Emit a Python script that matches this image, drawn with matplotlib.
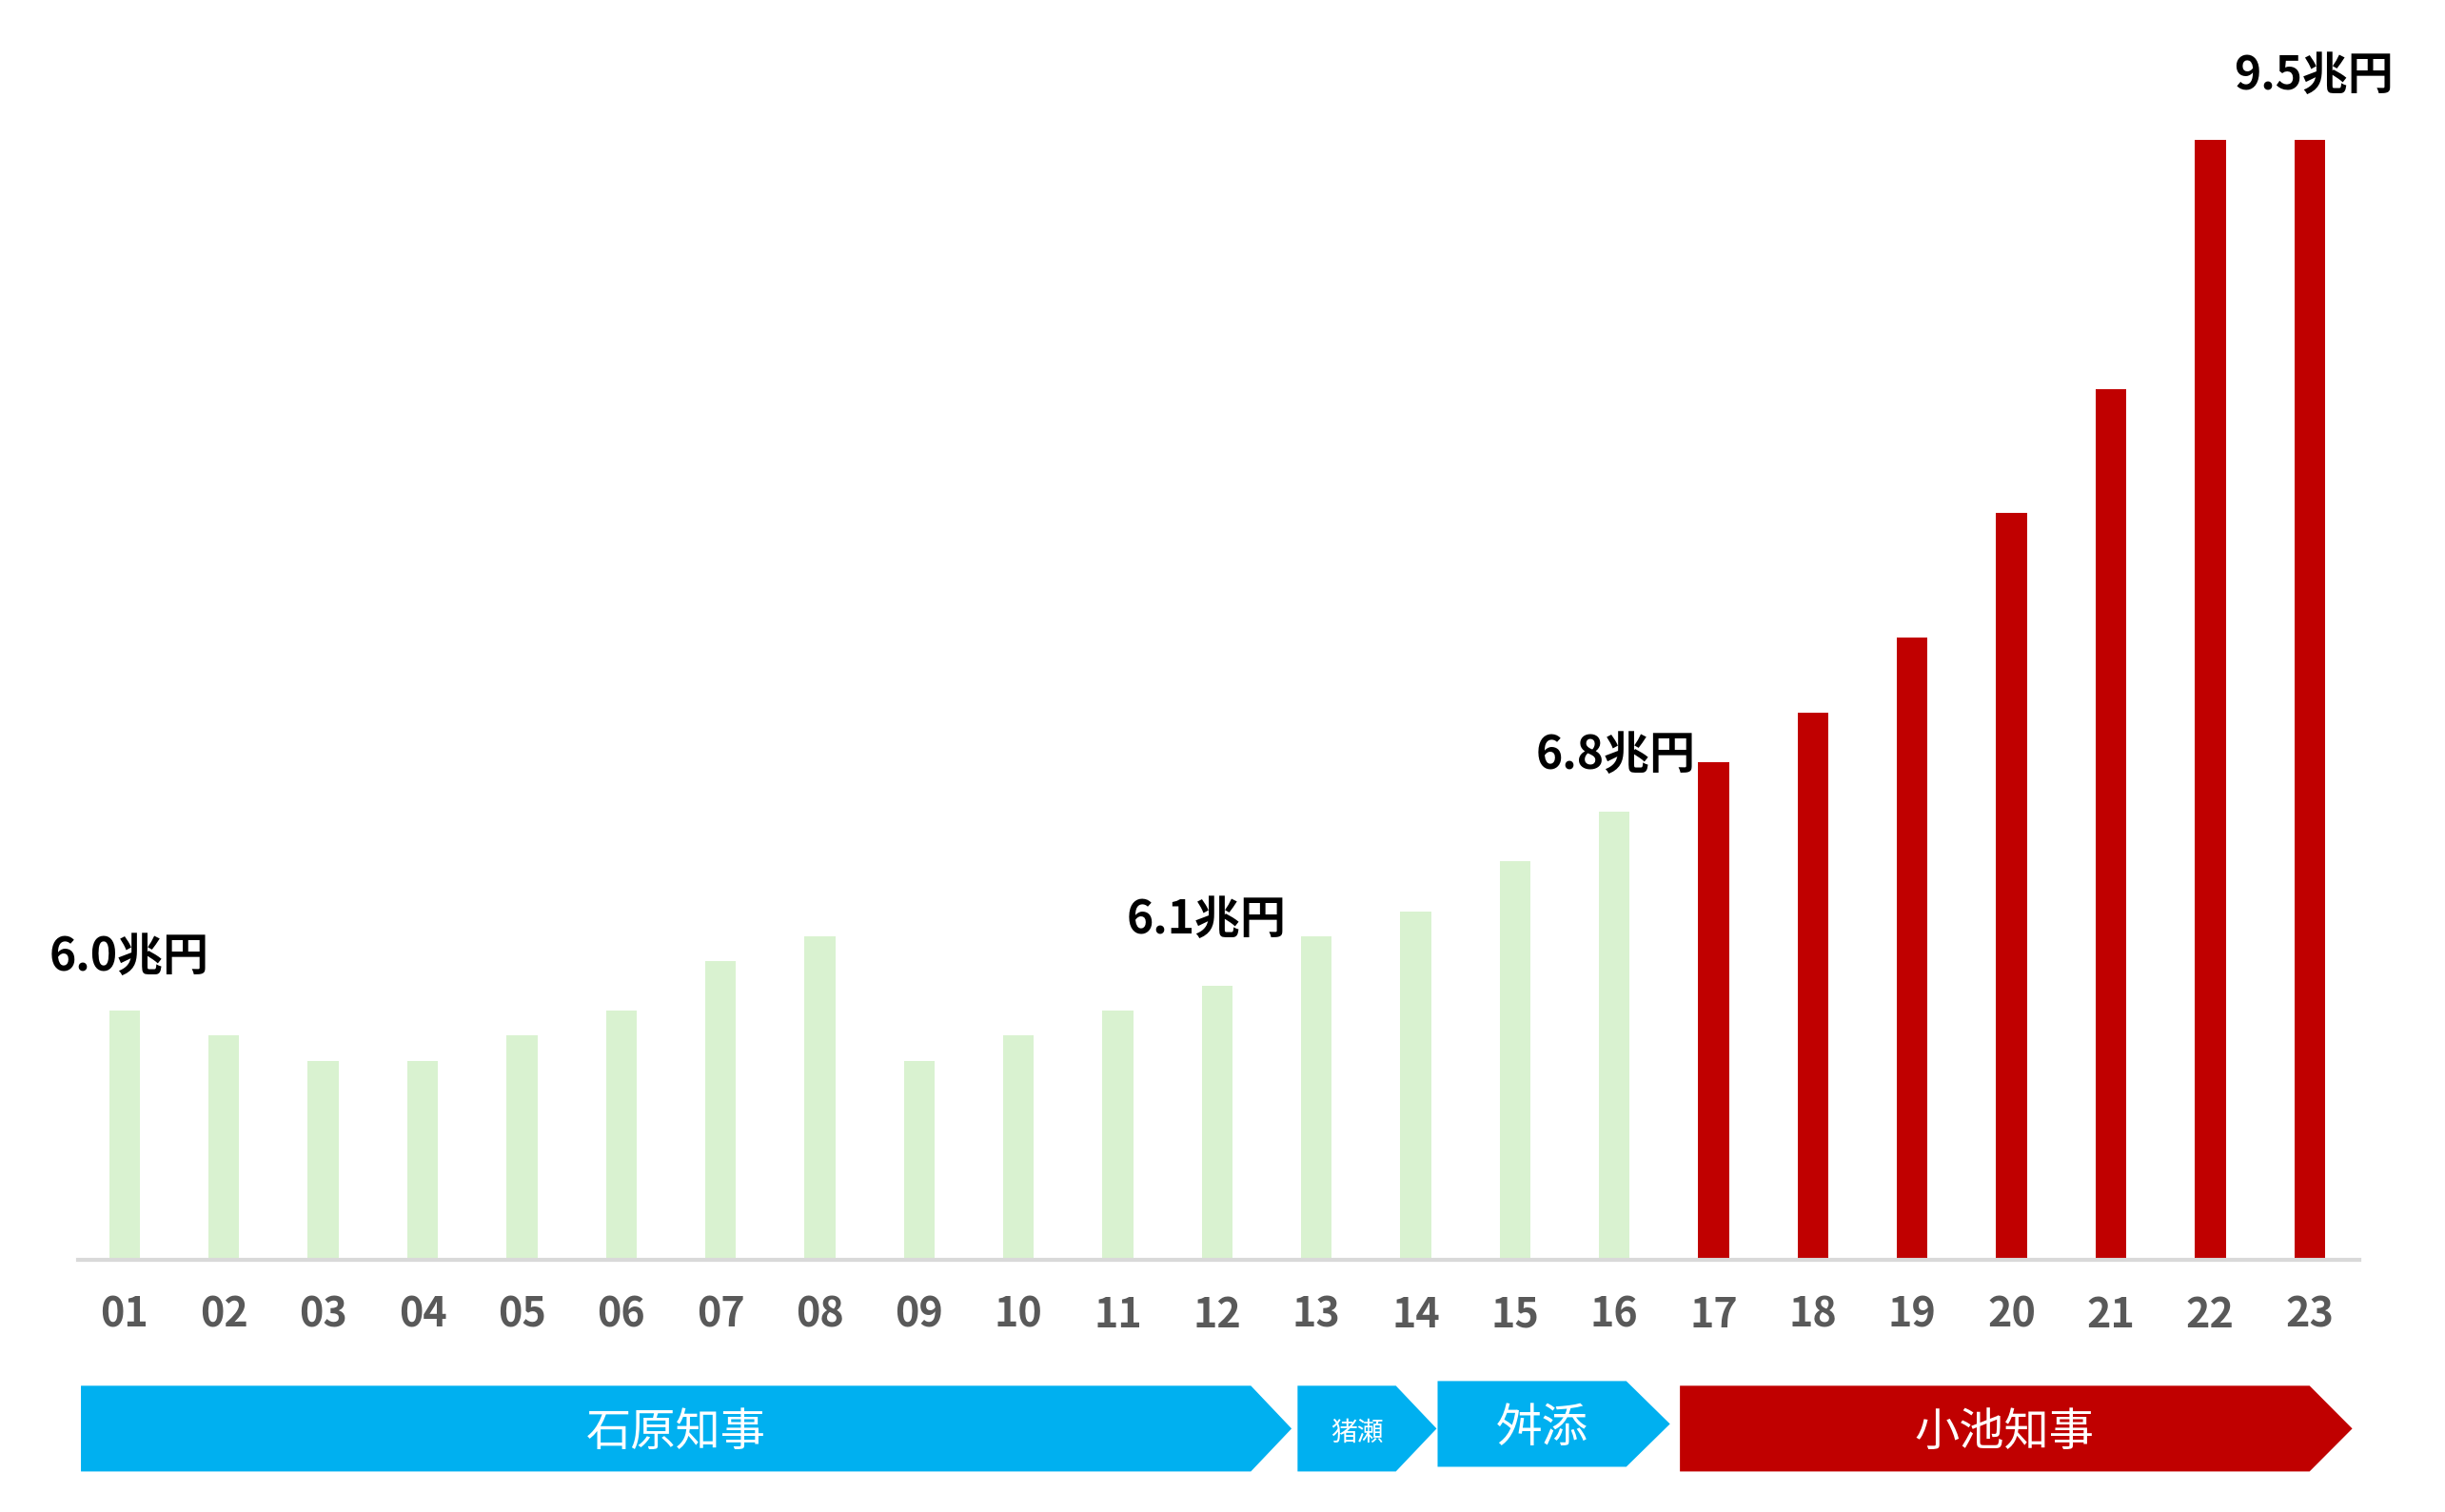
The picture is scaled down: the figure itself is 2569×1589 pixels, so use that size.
import matplotlib
matplotlib.use("Agg")
import matplotlib.pyplot as plt
from matplotlib.patches import Polygon

plt.rcParams['font.family'] = ['Noto Sans CJK JP', 'DejaVu Sans']

# ---- data ----
years = ["01", "02", "03", "04", "05", "06", "07", "08", "09", "10", "11", "12",
         "13", "14", "15", "16", "17", "18", "19", "20", "21", "22", "23"]
values = [6.0, 5.9, 5.8, 5.8, 5.9, 6.0, 6.2, 6.3, 5.8, 5.9, 6.0, 6.1,
          6.3, 6.4, 6.6, 6.8, 7.0, 7.2, 7.5, 8.0, 8.5, 9.5, 9.5]
koike_start = 16  # index of "17"
labels_idx = [0, 11, 15, 22]
labels_txt = ["6.0兆円", "6.1兆円", "6.8兆円", "9.5兆円"]
governors = ["石原知事", "猪瀬", "舛添", "小池知事"]

GREEN = "#D9F2D0"
RED = "#C00000"
BLUE = "#00B0F0"
BASE = 5.0

fig = plt.figure(figsize=(25.69, 15.89), dpi=100)
ax = fig.add_axes([50/1568, (970-808)/970, (1513-50)/1568, (808-20)/970])

x = list(range(len(years)))
colors = [GREEN if i < koike_start else RED for i in x]
ax.bar(x, [v - BASE for v in values], bottom=BASE, width=0.31, color=colors, zorder=2)

ax.set_xlim(-0.47, 22.5)
ax.set_ylim(BASE, BASE + (808-20)/159.56)
for s in ["top", "right", "left"]:
    ax.spines[s].set_visible(False)
ax.spines["bottom"].set_color("#D9D9D9")
ax.spines["bottom"].set_linewidth(3)
ax.set_yticks([])
ax.set_xticks(x)
ax.set_xticklabels(years, fontsize=31, fontweight="bold", color="#595959")
ax.tick_params(axis="x", length=0, pad=26)

# value labels
offs = {0: (3, 41), 11: (-8, 50), 15: (1, 43), 22: (3, 49)}
for i, t in zip(labels_idx, labels_txt):
    dx, dy = offs[i]
    ax.annotate(t, (i, values[i]), xytext=(dx, dy), textcoords="offset points",
                ha="center", va="center", fontsize=34.5, fontweight="bold",
                color="black", annotation_clip=False)

# governor arrows (data x units, data y units below the axis)
def yd(py):
    return BASE + (808 - py) / 159.56

shapes = [
    (governors[0], -0.44, 11.34, 11.75, 889, 944, BLUE, 34, 0.10),
    (governors[1], 11.81, 12.80, 13.21, 889, 944, BLUE, 20, 0.10),
    (governors[2], 13.22, 15.12, 15.56, 886, 941, BLUE, 35, 0.10),
    (governors[3], 15.66, 22.00, 22.43, 889, 944, RED, 34, 0.10),
]
for name, x0, x1, tip, pt, pb, col, fs, tdx in shapes:
    yt, yb = yd(pt), yd(pb)
    ym = (yt + yb) / 2
    poly = Polygon([(x0, yb), (x1, yb), (tip, ym), (x1, yt), (x0, yt)],
                   closed=True, facecolor=col, edgecolor="none", clip_on=False)
    ax.add_patch(poly)
    ax.text((x0 + x1) / 2 + tdx, ym - 0.018, name, ha="center", va="center",
            fontsize=fs, color="white", clip_on=False)

fig.savefig("out.png", dpi=100, facecolor="white")
